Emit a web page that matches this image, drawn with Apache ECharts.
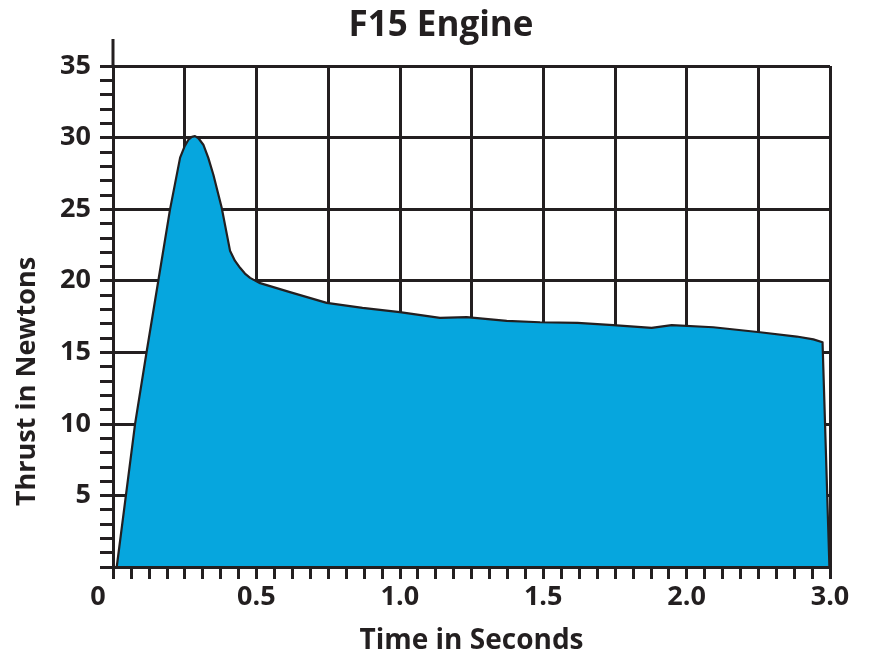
<!DOCTYPE html>
<html>
<head>
<meta charset="utf-8">
<script src="https://cdn.jsdelivr.net/npm/echarts@6/dist/echarts.min.js"></script>
<style>
html,body{margin:0;padding:0;background:#ffffff;}
#chart{width:882px;height:668px;}
</style>
</head>
<body>
<div id="chart"></div>
<script>
// Time positions (axis units, as drawn) and thrust values
var timeValues = [0.013, 0.077, 0.117, 0.158, 0.199, 0.216, 0.234, 0.25, 0.263, 0.275, 0.286, 0.298, 0.315, 0.332, 0.35, 0.379, 0.408, 0.425, 0.443, 0.46, 0.478, 0.51, 0.617, 0.745, 0.87, 1.0, 1.14, 1.233, 1.373, 1.489, 1.62, 1.744, 1.878, 1.948, 2.093, 2.256, 2.384, 2.442, 2.474, 2.498];
var thrustValues = [0, 10.0, 15.0, 20.0, 25.0, 26.75, 28.6, 29.4, 29.85, 30.05, 30.1, 29.95, 29.5, 28.6, 27.4, 25.1, 22.1, 21.4, 20.9, 20.5, 20.2, 19.85, 19.2, 18.45, 18.1, 17.8, 17.4, 17.45, 17.2, 17.1, 17.05, 16.9, 16.7, 16.9, 16.75, 16.4, 16.1, 15.9, 15.7, 0];

var xTickValues = [0, 0.5, 1, 1.5, 2, 2.5];
var xTickLabels = ['0', '0.5', '1.0', '1.5', '2.0', '3.0'];
var yTickValues = [5, 10, 15, 20, 25, 30, 35];
var yTickLabels = ['5', '10', '15', '20', '25', '30', '35'];

var titleText = 'F15 Engine';
var xName = 'Time in Seconds';
var yName = 'Thrust in Newtons';

var ink = '#231f20';
var fontFam = '"Open Sans", "Noto Sans", sans-serif';

function lookup(vals, labels, v) {
  for (var i = 0; i < vals.length; i++) {
    if (Math.abs(vals[i] - v) < 1e-6) return labels[i];
  }
  return '';
}

var data = timeValues.map(function (t, i) { return [t, thrustValues[i]]; });

var chart = echarts.init(document.getElementById('chart'));

var gridCfg = { left: 113, right: 52, top: 66, bottom: 101 };

var xBase = { type: 'value', min: 0, max: 2.5, interval: 0.25, gridIndex: 0 };
var yBase = { type: 'value', min: 0, max: 35, interval: 5, gridIndex: 0 };

var option = {
  backgroundColor: '#ffffff',
  animation: false,
  title: {
    text: titleText,
    left: 'center',
    top: 4,
    textStyle: { fontFamily: fontFam, fontWeight: 'bold', fontSize: 35, color: ink }
  },
  grid: gridCfg,
  xAxis: [
    Object.assign({}, xBase, {
      z: 0,
      axisLine: { show: false },
      axisTick: { show: false },
      axisLabel: { show: false },
      splitLine: { show: true, lineStyle: { color: ink, width: 3 } }
    }),
    Object.assign({}, xBase, {
      z: 10,
      position: 'bottom',
      name: xName,
      nameLocation: 'middle',
      nameGap: 60,
      nameTextStyle: { fontFamily: fontFam, fontWeight: 'bold', fontSize: 28, color: ink },
      axisLine: { show: true, onZero: false, lineStyle: { color: ink, width: 3 } },
      axisTick: { show: true, inside: false, length: 12, lineStyle: { color: ink, width: 3 } },
      minorTick: { show: true, splitNumber: 4, length: 12, lineStyle: { color: ink, width: 3 } },
      splitLine: { show: false },
      axisLabel: {
        show: true,
        margin: 17,
        fontFamily: fontFam,
        fontWeight: 'bold',
        fontSize: 27,
        color: ink,
        formatter: function (v) {
          var s = lookup(xTickValues, xTickLabels, v);
          if (Math.abs(v) < 1e-6) return '{z|' + s + '}';
          return s;
        },
        rich: {
          z: { fontFamily: fontFam, fontWeight: 'bold', fontSize: 27, color: ink, padding: [0, 30, 0, 0] }
        }
      }
    })
  ],
  yAxis: [
    Object.assign({}, yBase, {
      z: 0,
      axisLine: { show: false },
      axisTick: { show: false },
      axisLabel: { show: false },
      splitLine: { show: true, lineStyle: { color: ink, width: 3 } }
    }),
    Object.assign({}, yBase, {
      z: 10,
      position: 'left',
      name: yName,
      nameLocation: 'middle',
      nameRotate: 90,
      nameGap: 72,
      nameTextStyle: { fontFamily: fontFam, fontWeight: 'bold', fontSize: 27, color: ink, padding: [0, 130, 0, 0] },
      axisLine: { show: true, onZero: false, lineStyle: { color: ink, width: 3 } },
      axisTick: { show: true, inside: false, length: 13, lineStyle: { color: ink, width: 3 } },
      minorTick: { show: true, splitNumber: 5, length: 13, lineStyle: { color: ink, width: 3 } },
      splitLine: { show: false },
      axisLabel: {
        show: true,
        margin: 22,
        fontFamily: fontFam,
        fontWeight: 'bold',
        fontSize: 27,
        color: ink,
        formatter: function (v) { return lookup(yTickValues, yTickLabels, v); }
      }
    })
  ],
  series: [{
    type: 'line',
    xAxisIndex: 0,
    yAxisIndex: 0,
    data: data,
    symbol: 'none',
    smooth: false,
    z: 5,
    lineStyle: { color: ink, width: 2.2, join: 'round' },
    areaStyle: { color: '#06a6de', opacity: 1, origin: 'start' }
  }]
};

chart.setOption(option);

// extend the y axis line above the top grid line, as in the reference
var pTop = chart.convertToPixel({ gridIndex: 0 }, [0, 35]);
chart.setOption({
  graphic: [{
    type: 'line',
    z: 100,
    shape: { x1: pTop[0], y1: pTop[1] - 27, x2: pTop[0], y2: pTop[1] },
    style: { stroke: ink, lineWidth: 3 }
  }]
});
</script>
</body>
</html>
